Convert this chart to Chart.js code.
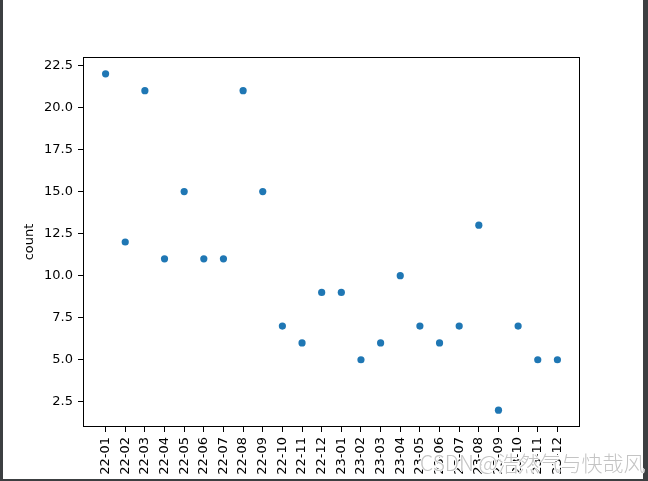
<!DOCTYPE html>
<html>
<head>
<meta charset="utf-8">
<script src="https://cdn.jsdelivr.net/npm/chart.js@4"></script>
<style>
  html, body { margin: 0; padding: 0; background: #ffffff; width: 648px; height: 481px; overflow: hidden; }
  #wrap { position: absolute; left: 3px; top: 0; width: 640px; height: 479px; }
  .band { position: absolute; background: #3c3f41; }
  #wm { position: absolute; left: 420px; top: 447px; font-family: "Noto Sans CJK SC", "DejaVu Sans", sans-serif; font-weight: 300; font-size: 21px; color: rgb(196,196,196); text-shadow: 1px 0 0 #fff, -1px 0 0 #fff, 0 1px 0 #fff, 0 -1px 0 #fff; white-space: nowrap; z-index: 5; }
</style>
</head>
<body>
<div id="wrap"><canvas id="c" width="640" height="479"></canvas></div>
<div class="band" style="left:0;top:0;width:3px;height:481px"></div>
<div class="band" style="left:643px;top:0;width:5px;height:481px"></div>
<div class="band" style="left:0;top:479px;width:648px;height:2px"></div>
<div id="wm">CSDN @浩然气与快哉风</div>
<script>
const months = ["22-01","22-02","22-03","22-04","22-05","22-06","22-07","22-08","22-09","22-10","22-11","22-12",
                "23-01","23-02","23-03","23-04","23-05","23-06","23-07","23-08","23-09","23-10","23-11","23-12"];
const counts = [22, 12, 21, 11, 15, 11, 11, 21, 15, 7, 6, 9, 9, 5, 6, 10, 7, 6, 7, 13, 2, 7, 5, 5];
const yTickValues = [2.5, 5.0, 7.5, 10.0, 12.5, 15.0, 17.5, 20.0, 22.5];
const yAxisTitle = "count";

const points = counts.map((v, i) => ({ x: i, y: v }));

const frame = {
  id: 'frame',
  afterDatasetsDraw(chart) {
    const { ctx, chartArea: a } = chart;
    ctx.save();
    ctx.strokeStyle = '#000';
    ctx.lineWidth = 1;
    ctx.strokeRect(a.left + 0.5, a.top + 0.5, a.right - a.left - 1, a.bottom - a.top - 1);
    ctx.restore();
  }
};

const tickFont = { family: "'DejaVu Sans'", size: 13 };

new Chart(document.getElementById('c'), {
  type: 'scatter',
  data: {
    datasets: [{
      data: points,
      backgroundColor: '#1f77b4',
      borderWidth: 0,
      pointRadius: 3.6,
      pointHoverRadius: 3.6
    }]
  },
  options: {
    responsive: false,
    animation: false,
    events: [],
    layout: { padding: { left: 0, top: 57, right: 63, bottom: 0 } },
    plugins: { legend: { display: false }, tooltip: { enabled: false } },
    scales: {
      x: {
        type: 'linear',
        min: -1.15,
        max: 24.15,
        afterBuildTicks: (s) => { s.ticks = months.map((_, i) => ({ value: i })); },
        afterFit: (s) => { s.height = 52; },
        border: { display: false },
        grid: { drawOnChartArea: false, drawTicks: true, tickLength: 5, tickColor: '#000', tickWidth: 1 },
        ticks: {
          autoSkip: false,
          minRotation: 90,
          maxRotation: 90,
          padding: 5,
          color: '#000',
          font: tickFont,
          callback: (v) => months[Math.round(v)]
        }
      },
      y: {
        type: 'linear',
        min: 1,
        max: 23,
        afterBuildTicks: (s) => { s.ticks = yTickValues.map(v => ({ value: v })); },
        afterFit: (s) => { s.width = 80; },
        border: { display: false },
        grid: { drawOnChartArea: false, drawTicks: true, tickLength: 5, tickColor: '#000', tickWidth: 1 },
        ticks: {
          padding: 5,
          color: '#000',
          font: tickFont,
          callback: (v) => Number(v).toFixed(1)
        },
        title: {
          display: true,
          text: yAxisTitle,
          color: '#000',
          font: tickFont,
          padding: { top: 19, bottom: 0 }
        }
      }
    }
  },
  plugins: [frame]
});
</script>
</body>
</html>
